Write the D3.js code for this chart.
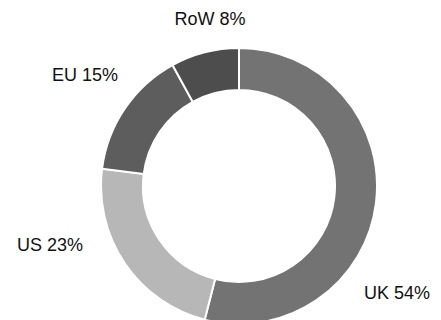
<!DOCTYPE html>
<html>
<head>
<meta charset="utf-8">
<script src="https://cdn.jsdelivr.net/npm/d3@7"></script>
<style>
  body { margin: 0; background: #fff; }
  svg text { font-family: "Liberation Sans", Arial, sans-serif; }
</style>
</head>
<body>
<svg id="donut"></svg>
<script>
// data
var regions = ["UK", "US", "EU", "RoW"];
var shares = [54, 23, 15, 8];
var sliceColors = ["#737373", "#b7b7b7", "#5d5d5d", "#4d4d4d"];

// label anchors (text centre x, baseline y)
var labelSpots = {UK: [397, 299], US: [50, 251], EU: [85, 81], RoW: [210, 25]};

var width = 441, height = 320;
var cx = 239, cy = 186, outer = 138, inner = 96;

var svg = d3.select("#donut")
  .attr("width", width)
  .attr("height", height);

var data = regions.map(function(r, i) { return {region: r, value: shares[i], color: sliceColors[i]}; });

var pie = d3.pie()
  .sort(null)
  .value(function(d) { return d.value; });

var arc = d3.arc()
  .innerRadius(inner)
  .outerRadius(outer);

var g = svg.append("g")
  .attr("transform", "translate(" + cx + "," + cy + ")");

g.selectAll("path")
  .data(pie(data))
  .enter()
  .append("path")
  .attr("d", arc)
  .attr("fill", function(d) { return d.data.color; })
  .attr("stroke", "#fff")
  .attr("stroke-width", 2);

svg.selectAll("text.lbl")
  .data(data)
  .enter()
  .append("text")
  .attr("class", "lbl")
  .attr("x", function(d) { return labelSpots[d.region][0]; })
  .attr("y", function(d) { return labelSpots[d.region][1]; })
  .attr("text-anchor", "middle")
  .attr("font-size", "18px")
  .attr("fill", "#111")
  .text(function(d) { return d.region + " " + d.value + "%"; });
</script>
</body>
</html>
